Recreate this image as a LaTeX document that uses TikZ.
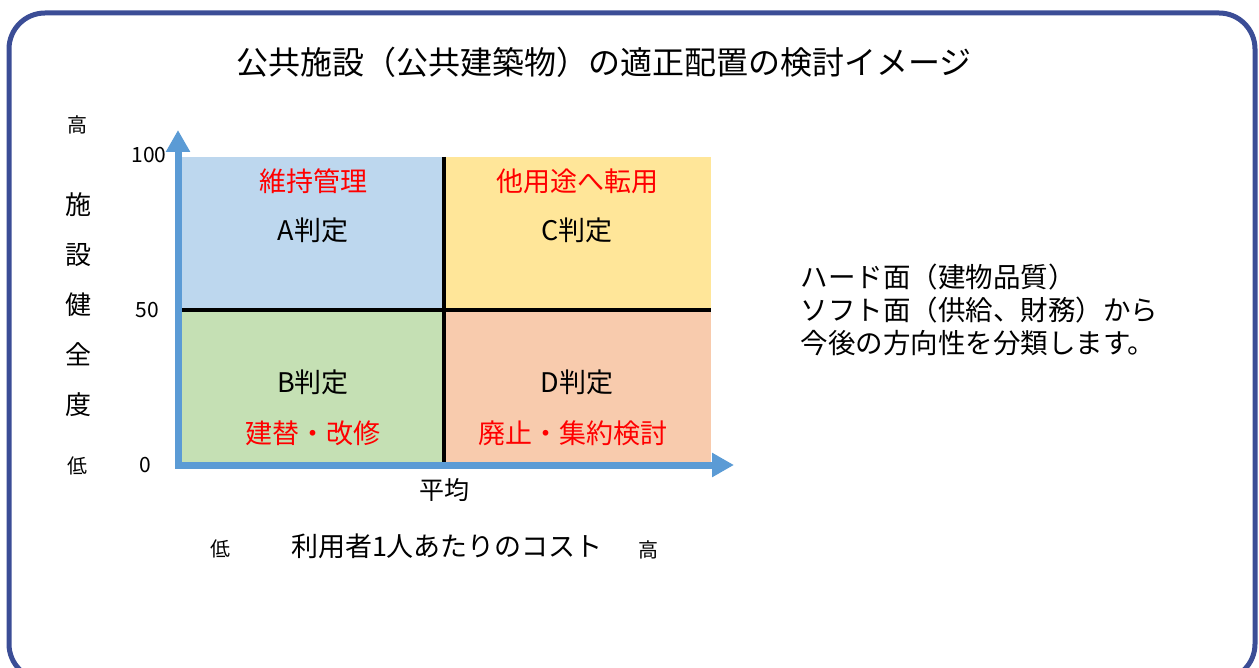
\documentclass[tikz,border=0pt]{standalone}
\usepackage{fontspec}
\setmainfont{Noto Sans CJK JP}
\usetikzlibrary{arrows.meta}

\definecolor{framec}{HTML}{3B4D96}
\definecolor{axisc}{HTML}{5B9BD5}
\definecolor{qa}{HTML}{BDD7EE}
\definecolor{qb}{HTML}{C5E0B4}
\definecolor{qc}{HTML}{FFE699}
\definecolor{qd}{HTML}{F8CBAD}
\definecolor{judgered}{HTML}{FF0000}

\newcommand{\fsz}[2]{\fontsize{#1}{#2}\selectfont}

\begin{document}
\begin{tikzpicture}[x=1pt,y=-1pt,
    quad/.style={inner sep=0pt, outer sep=0pt, anchor=north west},
    judge/.style={font=\fsz{27}{30}},
    policy/.style={font=\fsz{27}{30}, text=judgered},
    divider/.style={line width=3.5pt},
    axis/.style={axisc, line width=7pt, line join=miter,
      {Triangle[width=23pt,length=22pt]}-{Triangle[width=23pt,length=22pt]}}]

    \useasboundingbox (0,0) rectangle (1259,668);
    \draw [framec, line width=5pt, rounded corners=36pt] (9,13) rectangle (1255,680);

    \node [font=\fsz{32}{36}] (title) at (604,62) {公共施設（公共建築物）の適正配置の検討イメージ};

    % quadrants
    \node [quad, fill=qa, minimum width=262pt, minimum height=153pt] (qA) at (182,157) {};
    \node [quad, fill=qc, minimum width=267pt, minimum height=153pt] (qC) at (444,157) {};
    \node [quad, fill=qb, minimum width=262pt, minimum height=152pt] (qB) at (182,310) {};
    \node [quad, fill=qd, minimum width=267pt, minimum height=152pt] (qD) at (444,310) {};

    \draw [divider] (qA.north east) -- (qB.south east);
    \draw [divider] (qA.south west) -- (qD.north east);

    \node [policy] (pA) at (313,181) {維持管理};
    \node [judge] (jA) at (313,230) {A判定};
    \node [policy] (pC) at (577,181) {他用途へ転用};
    \node [judge] (jC) at (577,230) {C判定};
    \node [judge] (jB) at (313,382) {B判定};
    \node [policy] (pB) at (313,433) {建替・改修};
    \node [judge] (jD) at (577,382) {D判定};
    \node [policy] (pD) at (573,433) {廃止・集約検討};

    % axes
    \coordinate (ytip) at (178,130);
    \coordinate (xtip) at (734,465);
    \draw [axis] (ytip) |- (xtip);

    \node [font=\fsz{21}{24}] (y100) at (149,155) {100};
    \node [font=\fsz{21}{24}] (y50) at (147,310) {50};
    \node [font=\fsz{21}{24}] (y0) at (145,465) {0};
    \node [font=\fsz{20}{22}] (yhigh) at (77,125) {高};
    \node [font=\fsz{26}{50}, align=center] (ylabel) at (78,305) {施\\設\\健\\全\\度};
    \node [font=\fsz{20}{22}] (ylow) at (77,466) {低};

    \node [font=\fsz{25}{28}] (avg) at (444,490) {平均};
    \node [font=\fsz{20}{22}] (xlow) at (220,549) {低};
    \node [font=\fsz{27}{30}] (xlabel) at (447,546) {利用者1人あたりのコスト};
    \node [font=\fsz{20}{22}] (xhigh) at (648,550) {高};

    \node [font=\fsz{27.5}{33}, anchor=west, align=left] (note) at (797,310)
      {ハード面（建物品質）\\ソフト面（供給、財務）から\\今後の方向性を分類します。};

\end{tikzpicture}
\end{document}
